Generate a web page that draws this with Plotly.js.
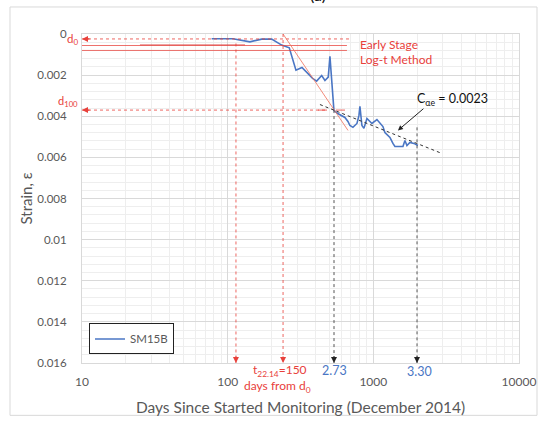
<!DOCTYPE html>
<html><head><meta charset="utf-8">
<script src="https://cdn.plot.ly/plotly-3.0.1.min.js"></script>
<style>html,body{margin:0;padding:0;background:#fff}#c{width:547px;height:421px}</style>
</head><body><div id="c"></div>
<script>
// Monitoring series SM15B (days, strain)
const days = [77.6,108.7,142.2,171.2,200.5,234.8,264.8,294.3,323.6,350,383,408,442,465.5,490.3,503.6,517.3,525.6,536.5,574,606,638,669.5,690.8,724.4,771.8,796.7,809,835,861.7,903.7,947.6,977.9,1058.5,1110,1163.9,1201,1259.6,1299.9,1363,1407,1522,1597,1648,1701,1783,1900,2024];
const strain = [0.00023,0.00023,0.00038,0.00025,0.00025,0.00054,0.00067,0.00176,0.00163,0.00187,0.00216,0.00229,0.00202,0.00226,0.0021,0.00109,0.00242,0.00315,0.00372,0.00388,0.00396,0.00406,0.00425,0.00445,0.00454,0.00435,0.00396,0.00352,0.00445,0.00459,0.00411,0.00425,0.00435,0.00416,0.00435,0.0045,0.00479,0.00493,0.00503,0.00532,0.00547,0.00547,0.00547,0.00518,0.00542,0.00527,0.00532,0.00542];

// Construction values
const d0 = 0.00024, d100 = 0.0037;
const earlyLines = [0.00056, 0.0008];
const earlyX = [10, 659];
const earlyThick = [25, 131.5];
const d0LineX = [10, 690];
const d100LineX = [10, 480];
const tangentX = [240, 670], tangentY = [0, 0.00469];
const caeX = [430, 2957], caeY = [0.00343, 0.00581];
const crossX = [417, 670];
const redVert1 = 114, redVert1Top = 0.00046;
const redVert2 = 240;
const logT100 = 2.73, logTend = 3.30;
const t100Top = d100, tendTop = 0.00454;
const yBottom = 0.016;
const xTicks = [10, 100, 1000, 10000];
const yTickStep = 0.002;

const red = '#e8413b';
const traces = [
  {x: days, y: strain, type:'scatter', mode:'lines', name:'SM15B',
   line:{color:'#4a76c4', width:1.6}},
  {x: earlyX, y:[earlyLines[0],earlyLines[0]], mode:'lines', showlegend:false, line:{color:'rgba(232,65,59,0.75)', width:1}},
  {x: earlyX, y:[earlyLines[1],earlyLines[1]], mode:'lines', showlegend:false, line:{color:'rgba(232,65,59,0.75)', width:1}},
  {x: earlyThick, y:[earlyLines[0]-0.00004,earlyLines[0]-0.00004], mode:'lines', showlegend:false, line:{color:'rgba(215,50,50,0.45)', width:1.5}},
  {x: d0LineX, y:[d0,d0], mode:'lines', showlegend:false, line:{color:'rgba(232,65,59,0.8)', width:1, dash:'dot'}},
  {x: d100LineX, y:[d100,d100], mode:'lines', showlegend:false, line:{color:'rgba(232,65,59,0.8)', width:1, dash:'dot'}},
  {x: crossX, y:[d100,d100], mode:'lines', showlegend:false, line:{color:'rgba(232,65,59,0.8)', width:1, dash:'dash'}},
  {x: tangentX, y: tangentY, mode:'lines', showlegend:false, line:{color:'rgba(240,120,100,0.85)', width:1}},
  {x: caeX, y: caeY, mode:'lines', showlegend:false, line:{color:'#333', width:1, dash:'dot'}},
  {x:[redVert1,redVert1], y:[redVert1Top,yBottom], mode:'lines', showlegend:false, line:{color:'rgba(232,65,59,0.8)', width:1, dash:'dot'}},
  {x:[redVert2,redVert2], y:[0,yBottom], mode:'lines', showlegend:false, line:{color:'rgba(232,65,59,0.8)', width:1, dash:'dot'}},
  {x:[Math.pow(10,logT100),Math.pow(10,logT100)], y:[t100Top,yBottom], mode:'lines', showlegend:false, line:{color:'#555', width:1, dash:'dot'}},
  {x:[Math.pow(10,logTend),Math.pow(10,logTend)], y:[tendTop,yBottom], mode:'lines', showlegend:false, line:{color:'#555', width:1, dash:'dot'}}
];

const font = 'Lato, "Open Sans", sans-serif';
function arrowDown(xlog, color){
  return {x:xlog, y:yBottom, xref:'x', yref:'y', text:'', showarrow:true, ax:0, ay:-8,
          arrowhead:2, arrowsize:1, arrowwidth:1.2, arrowcolor:color};
}
function arrowLeft(yv){
  return {x:1, y:yv, xref:'x', yref:'y', text:'', showarrow:true, ax:9, ay:0,
          arrowhead:2, arrowsize:1, arrowwidth:1.2, arrowcolor:red};
}
const annotations = [
  arrowDown(Math.log10(redVert1), red),
  arrowDown(Math.log10(redVert2), red),
  arrowDown(logT100, '#222'),
  arrowDown(logTend, '#222'),
  arrowLeft(d0), arrowLeft(d100),
  {xref:'paper', yref:'paper', x:-0.004, y:(362.7-39)/328.7, text:'d<sub>0</sub>', showarrow:false, xanchor:'right', yanchor:'middle', font:{family:font, size:11.5, color:red}},
  {xref:'paper', yref:'paper', x:-0.004, y:(362.7-101)/328.7, text:'d<sub>100</sub>', showarrow:false, xanchor:'right', yanchor:'middle', font:{family:font, size:11, color:red}},
  {xref:'paper', yref:'paper', x:0.632, y:(362.7-44)/328.7, text:'Early Stage', showarrow:false, xanchor:'left', yanchor:'middle', font:{family:font, size:12, color:red}},
  {xref:'paper', yref:'paper', x:0.632, y:(362.7-59)/328.7, text:'Log-t Method', showarrow:false, xanchor:'left', yanchor:'middle', font:{family:font, size:12, color:red}},
  {xref:'paper', yref:'paper', x:0.848, y:(362.7-99)/328.7, text:'C<sub>αe</sub> = 0.0023', showarrow:false, xanchor:'center', yanchor:'middle', font:{family:font, size:12.5, color:'#111'}},
  {x:Math.log10(1475), y:0.00469, xref:'x', yref:'y', text:'', showarrow:true, ax:27, ay:-23, arrowhead:2, arrowsize:1, arrowwidth:1, arrowcolor:'#222'},
  {xref:'x', yref:'paper', x:logT100, y:(362.7-370)/328.7, text:'2.73', showarrow:false, xanchor:'center', yanchor:'middle', font:{family:font, size:12.5, color:'#4a76c4'}},
  {xref:'x', yref:'paper', x:3.32, y:(362.7-371)/328.7, text:'3.30', showarrow:false, xanchor:'center', yanchor:'middle', font:{family:font, size:12.5, color:'#4a76c4'}},
  {xref:'paper', yref:'paper', x:(280-82)/437, y:(362.7-370)/328.7, text:'t<sub>22.14</sub>=150', showarrow:false, xanchor:'center', yanchor:'middle', font:{family:font, size:12, color:red}},
  {xref:'paper', yref:'paper', x:(277-82)/437, y:(362.7-386)/328.7, text:'days from d<sub>0</sub>', showarrow:false, xanchor:'center', yanchor:'middle', font:{family:font, size:12, color:red}},
  {xref:'paper', yref:'paper', x:(318-82)/437, y:(362.7-6)/328.7, text:'(a)', showarrow:false, xanchor:'center', yanchor:'bottom', font:{family:font, size:16, color:'#111'}},
  {xref:'paper', yref:'paper', x:(25-82)/437, y:0.5, text:'Strain, ε', textangle:-90, showarrow:false, xanchor:'center', yanchor:'middle', font:{family:font, size:15, color:'#595959'}}
];

const layout = {
  width:547, height:421,
  margin:{l:82, r:28, t:34, b:58},
  paper_bgcolor:'#fff', plot_bgcolor:'#fff',
  font:{family:font, color:'#595959'},
  showlegend:true,
  legend:{x:0.016, y:0.026, xanchor:'left', yanchor:'bottom', bgcolor:'#fff', bordercolor:'#222', borderwidth:1,
          font:{family:font, size:11.5, color:'#595959'}, itemwidth:30, tracegroupgap:0},
  xaxis:{type:'log', range:[1,4], tickvals:xTicks, ticktext:xTicks.map(String),
         showgrid:true, gridcolor:'#d9d9d9', gridwidth:1,
         minor:{dtick:'D1', showgrid:true, gridcolor:'#eeeeee', ticks:''},
         showline:true, linecolor:'#d9d9d9', mirror:true, zeroline:false, ticks:'',
         ticklabelstandoff:8, tickfont:{family:font, size:12, color:'#595959'},
         title:{text:'Days Since Started Monitoring (December 2014)', standoff:13, font:{family:font, size:15.5, color:'#595959'}}},
  yaxis:{range:[yBottom,0], dtick:yTickStep, tick0:0,
         showgrid:true, gridcolor:'#d9d9d9', gridwidth:1,
         minor:{dtick:0.0004, showgrid:true, gridcolor:'#eeeeee', ticks:''},
         showline:true, linecolor:'#d9d9d9', mirror:true, zeroline:false, ticks:'',
         ticklabelstandoff:12, tickfont:{family:font, size:11.5, color:'#595959'}},
  shapes:[{type:'rect', xref:'paper', yref:'paper', x0:(10-82)/437, x1:(537-82)/437, y0:(362.7-415)/328.7, y1:(362.7-7)/328.7,
           line:{color:'#d9d9d9', width:1}, fillcolor:'rgba(0,0,0,0)', layer:'below'}],
  annotations: annotations
};
Plotly.newPlot('c', traces, layout, {displayModeBar:false, staticPlot:true});
</script></body></html>
